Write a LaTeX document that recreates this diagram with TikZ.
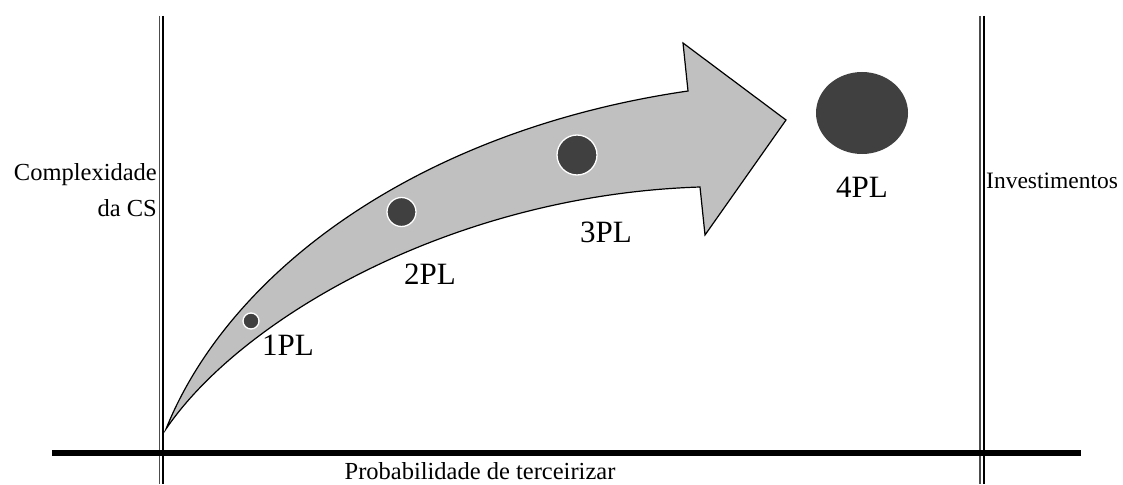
\documentclass[tikz,border=0pt]{standalone}
\usepackage{fontspec}
\setmainfont{Liberation Serif}
\definecolor{arrowgray}{RGB}{192,192,192}
\definecolor{dotgray}{RGB}{64,64,64}
\begin{document}
\begin{tikzpicture}[x=1pt,y=-1pt,
    axisline/.style={line width=2pt},
    dot/.style={fill=dotgray,draw=white,line width=1.3pt},
    axislabel/.style={font=\fontsize{24.5}{30}\selectfont,inner sep=0pt},
    pllabel/.style={font=\fontsize{31}{36}\selectfont,inner sep=0pt}]
    \useasboundingbox (0,0) rectangle (1123,484);
    % Drawing the curved arrow
    \draw[fill=arrowgray,line width=1.2pt,line join=miter]
      (166,429) .. controls (230,270) and (420,130) .. (688,91)
      -- (683,43) -- (786,120) -- (705,235) -- (700,187)
      .. controls (450,195) and (240,320) .. (166,429) -- cycle;
    % Drawing axes
    \draw[line width=1.2pt,black!70] (159.5,16) -- (159.5,484);
    \draw[axisline] (163,16) -- (163,484);
    \draw[line width=1.2pt,black!70] (980,16) -- (980,484);
    \draw[axisline] (983.5,16) -- (983.5,484);
    \draw[line width=5.5pt] (52,453) -- (1081,453);
    % Drawing the providers
    \filldraw[dot] (251,321) circle (8);
    \filldraw[dot] (401.5,212) circle (14.5);
    \filldraw[dot] (577,155) circle (20);
    \fill[dotgray] (862,113) ellipse (46 and 41);
    % Labelling
    \node[pllabel,anchor=base] (pl1) at (288,355) {1PL};
    \node[pllabel,anchor=base] (pl2) at (430,284) {2PL};
    \node[pllabel,anchor=base] (pl3) at (606,242) {3PL};
    \node[pllabel,anchor=base] (pl4) at (862,197) {4PL};
    \node[axislabel,anchor=base east] (cplx) at (157,180) {Complexidade};
    \node[axislabel,anchor=base east] (dacs) at (157,216) {da CS};
    \node[axislabel,font=\fontsize{23.5}{30}\selectfont,anchor=base west] (invest) at (986,188) {Investimentos};
    \node[axislabel,anchor=base] (prob) at (480,479) {Probabilidade de terceirizar};
\end{tikzpicture}
\end{document}
